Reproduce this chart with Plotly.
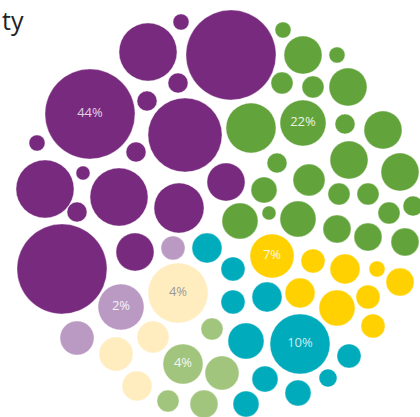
import plotly.graph_objects as go

# Packed bubbles: centre x, centre y, radius (px-scale units), label
purple_x = [231, 148, 181, 178, 147, 185, 90, 37, 136, 45, 83, 119, 77, 62, 135, 179, 226]
purple_y = [55, 52, 22, 83, 101, 135, 114, 143, 152, 189, 173, 197, 212, 269, 252, 208, 182]
purple_r = [45, 29, 8, 10, 10, 37, 45, 8, 10, 29, 7, 29, 10, 45, 19, 25, 19]
purple_label = ["", "", "", "", "", "", "44%", "", "", "", "", "", "", "", "", "", ""]

green_x = [283, 303, 337, 282, 313, 348, 251, 303, 345, 383, 277, 309, 349, 400, 264, 339, 368, 389, 413, 240, 269, 298, 337, 368, 405]
green_y = [30, 55, 55, 83, 87, 87, 128, 123, 124, 130, 163, 180, 160, 172, 190, 194, 194, 213, 206, 221, 213, 219, 229, 237, 242]
green_r = [8, 19, 8, 11, 11, 19, 25, 23, 10, 19, 10, 16, 19, 19, 13, 11, 11, 11, 10, 18, 7, 18, 14, 14, 14]
green_label = ["", "", "", "", "", "", "", "22%"] + [""] * 17

gold_x = [272, 313, 345, 377, 400, 300, 337, 368, 373]
gold_y = [256, 261, 269, 269, 282, 293, 308, 297, 326]
gold_r = [22, 12, 15, 8, 14, 15, 18, 12, 12]
gold_label = ["7%"] + [""] * 8

teal_x = [207, 233, 233, 267, 246, 300, 349, 328, 298, 265, 246]
teal_y = [248, 269, 302, 297, 341, 344, 356, 378, 393, 379, 404]
teal_r = [15, 12, 12, 15, 18, 30, 12, 9, 13, 13, 13]
teal_label = ["", "", "", "", "", "10%", "", "", "", "", ""]

mauve_x = [173, 121, 77]
mauve_y = [248, 307, 338]
mauve_r = [12, 23, 17]
mauve_label = ["", "2%", ""]

cream_x = [178, 153, 116, 137]
cream_y = [293, 337, 354, 386]
cream_r = [30, 16, 17, 15]
cream_label = ["4%", "", "", ""]

sage_x = [183, 168, 212, 222, 204]
sage_y = [364, 401, 329, 373, 404]
sage_r = [20, 11, 11, 17, 14]
sage_label = ["4%", "", "", "", ""]

title_text = "ty"

groups = [
    (purple_x, purple_y, purple_r, purple_label, "#782A7E", "rgba(255,255,255,0.8)"),
    (green_x, green_y, green_r, green_label, "#62A43B", "rgba(255,255,255,0.9)"),
    (gold_x, gold_y, gold_r, gold_label, "#FFD100", "rgba(255,255,255,0.9)"),
    (teal_x, teal_y, teal_r, teal_label, "#00ABBC", "rgba(255,255,255,0.8)"),
    (mauve_x, mauve_y, mauve_r, mauve_label, "#BA9AC3", "rgba(255,255,255,0.9)"),
    (cream_x, cream_y, cream_r, cream_label, "#FFEDC0", "#9A9A9A"),
    (sage_x, sage_y, sage_r, sage_label, "#A2C57E", "rgba(255,255,255,0.9)"),
]

fig = go.Figure()
for xs, ys, rs, labels, color, tcolor in groups:
    fig.add_trace(go.Scatter(
        x=xs, y=ys, mode="markers+text",
        text=labels, textposition="middle center",
        textfont=dict(family="Open Sans", size=13, color=tcolor),
        marker=dict(size=[2 * r for r in rs], sizemode="diameter", opacity=1,
                    color=color, line=dict(width=0.6, color="rgba(255,255,255,0.6)")),
        hoverinfo="skip",
    ))

fig.add_annotation(x=0, y=20, xref="x", yref="y", text=title_text, showarrow=False,
                   xanchor="left", yanchor="middle",
                   font=dict(family="Open Sans", size=25, color="#222222"))

fig.update_layout(
    width=420, height=417,
    margin=dict(l=0, r=0, t=0, b=0),
    paper_bgcolor="white", plot_bgcolor="white",
    showlegend=False,
    xaxis=dict(range=[0, 420], visible=False, fixedrange=True),
    yaxis=dict(range=[417, 0], visible=False, fixedrange=True),
    hovermode=False,
)

fig.write_html("out.html", config={"displayModeBar": False},
               post_script="document.body.style.margin='0';document.body.style.overflow='hidden';")
